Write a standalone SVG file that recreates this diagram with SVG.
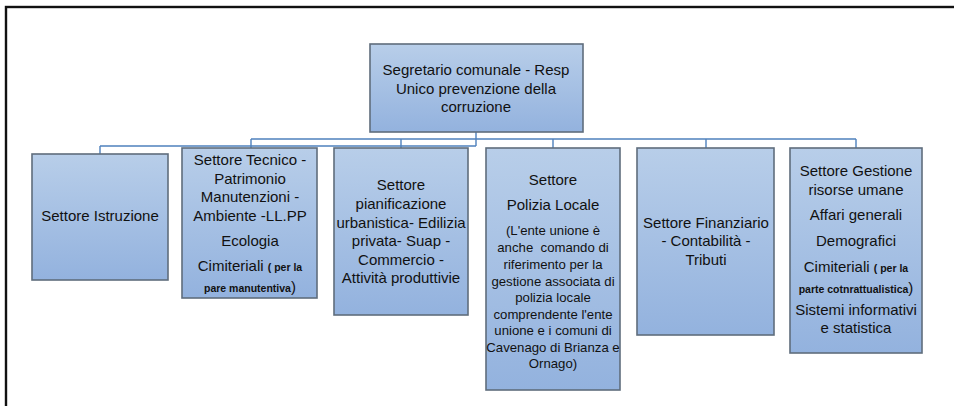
<svg xmlns="http://www.w3.org/2000/svg" width="954" height="406" viewBox="0 0 954 406">
<defs>
<linearGradient id="g" x1="0" y1="0" x2="0" y2="1">
<stop offset="0" stop-color="#b8cee9"/>
<stop offset="1" stop-color="#93b2de"/>
</linearGradient>
<style>
.box{fill:url(#g);stroke:#5f6d7c;stroke-width:1.6}
.t{font-family:"Liberation Sans",Arial,sans-serif;font-size:15px;fill:#111;text-anchor:middle}
.s{font-family:"Liberation Sans",Arial,sans-serif;font-size:13.2px;fill:#111;text-anchor:middle}
.sm{font-size:10.5px;font-weight:bold}
.c{fill:none;stroke:#4f81bd;stroke-width:1.4}
</style>
</defs>
<rect x="0" y="0" width="954" height="406" fill="#fff"/>
<rect x="6" y="7" width="1000" height="450" fill="none" stroke="#111" stroke-width="2.4"/>

<g id="connectors">
<path class="c" d="M476,132 V146 M251,139 H856 M100,146 H476 M251,139 V148 M401,139 V148 M553,139 V148 M706,139 V148 M856,139 V148 M100,146 V154"/>
</g>

<g id="n0">
<rect class="box" x="370" y="44" width="213" height="88"/>
<text class="t" x="476" y="75">Segretario comunale - Resp</text>
<text class="t" x="476" y="94">Unico prevenzione della</text>
<text class="t" x="476" y="112">corruzione</text>
</g>

<g id="n1">
<rect class="box" x="32" y="154" width="136" height="126"/>
<text class="t" x="100" y="221">Settore Istruzione</text>
</g>

<g id="n2">
<rect class="box" x="182" y="148" width="135" height="150"/>
<text class="t" x="250" y="165">Settore Tecnico -</text>
<text class="t" x="250" y="184">Patrimonio</text>
<text class="t" x="250" y="202">Manutenzioni -</text>
<text class="t" x="250" y="221">Ambiente -LL.PP</text>
<text class="t" x="250" y="246">Ecologia</text>
<text class="t" x="250" y="271">Cimiteriali <tspan class="sm">( per la</tspan></text>
<text class="t" x="250" y="292"><tspan class="sm">pare manutentiva</tspan>)</text>
</g>

<g id="n3">
<rect class="box" x="334" y="148" width="134" height="167"/>
<text class="t" x="401" y="190">Settore</text>
<text class="t" x="401" y="209">pianificazione</text>
<text class="t" x="401" y="228">urbanistica- Edilizia</text>
<text class="t" x="401" y="246">privata- Suap -</text>
<text class="t" x="401" y="265">Commercio -</text>
<text class="t" x="401" y="283">Attività produttivie</text>
</g>

<g id="n4">
<rect class="box" x="486" y="148" width="134" height="242"/>
<text class="t" x="553" y="185">Settore</text>
<text class="t" x="553" y="210">Polizia Locale</text>
<text class="s" x="553" y="235">(L'ente unione è</text>
<text class="s" x="553" y="252" style="white-space:pre">anche  comando di</text>
<text class="s" x="553" y="269">riferimento per la</text>
<text class="s" x="553" y="286">gestione associata di</text>
<text class="s" x="553" y="302">polizia locale</text>
<text class="s" x="553" y="319">comprendente l'ente</text>
<text class="s" x="553" y="335">unione e i comuni di</text>
<text class="s" x="553" y="352">Cavenago di Brianza e</text>
<text class="s" x="553" y="368">Ornago)</text>
</g>

<g id="n5">
<rect class="box" x="637" y="148" width="137" height="187"/>
<text class="t" x="706" y="228">Settore Finanziario</text>
<text class="t" x="706" y="246">- Contabilità -</text>
<text class="t" x="706" y="265">Tributi</text>
</g>

<g id="n6">
<rect class="box" x="790" y="148" width="132" height="205"/>
<text class="t" x="856" y="176">Settore Gestione</text>
<text class="t" x="856" y="195">risorse umane</text>
<text class="t" x="856" y="220">Affari generali</text>
<text class="t" x="856" y="246">Demografici</text>
<text class="t" x="856" y="272">Cimiteriali <tspan class="sm">( per la</tspan></text>
<text class="t" x="856" y="293"><tspan class="sm">parte cotnrattualistica</tspan>)</text>
<text class="t" x="856" y="315">Sistemi informativi</text>
<text class="t" x="856" y="333">e statistica</text>
</g>
</svg>
